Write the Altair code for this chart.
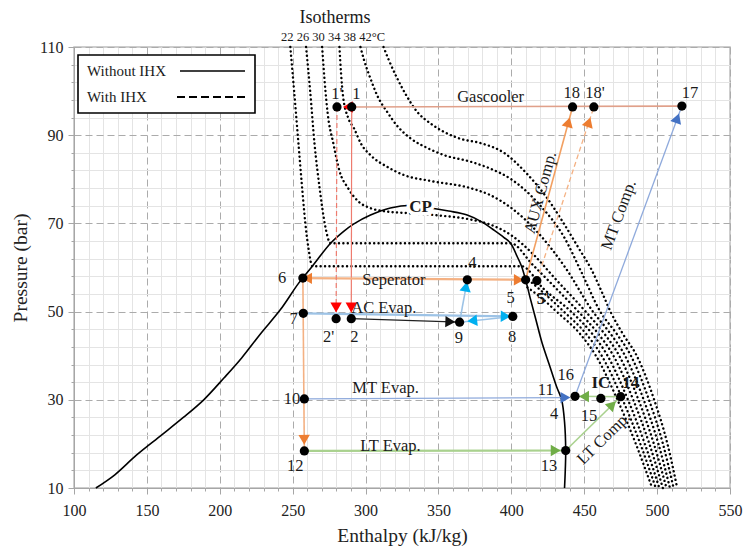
import math
import altair as alt
import pandas as pd

W, H = 656, 441
H_RANGE = [100, 550]
P_RANGE = [10, 110]
FONT = "Liberation Serif"

# ---------------- ticks ----------------
x_tick_values = list(range(100, 551, 10))
y_tick_values = list(range(10, 111, 4))

# ---------------- saturation dome ----------------
dome_h = [115.0, 128.0, 143.0, 160.0, 175.0, 189.0, 203.0, 215.0, 228.0, 241.5, 254.0, 263.5, 276.0,
          285.0, 292.0, 303.4, 317.0, 331.0, 344.6, 357.0, 369.7, 380.0, 388.0, 395.0, 399.5, 404.0,
          407.0, 409.8, 413.0, 417.0, 421.0, 426.0, 431.0, 434.5, 436.5, 437.3, 437.0, 436.5]
dome_P = [10.0, 13.0, 17.5, 22.0, 26.0, 30.0, 35.0, 39.5, 45.0, 50.4, 56.4, 60.3, 65.5,
          68.2, 69.9, 71.9, 73.5, 74.1, 73.5, 72.8, 71.9, 70.3, 68.5, 66.8, 65.5, 62.5,
          60.3, 57.2, 53.0, 48.0, 43.0, 38.0, 33.0, 30.0, 25.0, 18.5, 14.0, 10.0]

# ---------------- isotherms ----------------
iso22_h = [248.4, 251.0, 254.0, 256.5, 258.7, 261.0, 263.5, 407.0, 422.0, 441.0, 455.4, 466.0, 480.0, 491.6, 501.5]
iso22_P = [110, 100, 88, 78, 70, 64, 60.3, 60.3, 55.2, 50, 45, 40, 30, 20, 10]
iso26_h = [259.2, 262.0, 265.0, 268.5, 272.0, 276.0, 399.5, 415.0, 430.0, 446.0, 459.6, 470.0, 483.6, 494.7, 503.9]
iso26_P = [110, 100, 88, 78, 70, 65.5, 65.5, 60.5, 55.5, 50, 45, 40, 30, 20, 10]
iso30_h = [270.2, 272.5, 274.0, 278.0, 282.0, 288.0, 295.0, 303.0, 312.0, 330.0, 350.0, 370.0, 385.0,
           400.0, 415.0, 430.0, 451.0, 463.8, 474.0, 487.2, 497.8, 506.4]
iso30_P = [110, 100, 95, 88, 82, 78, 75, 73.5, 72.8, 72.3, 71.8, 71.0, 69.8,
           67.3, 63.0, 57.5, 50, 45, 40, 30, 20, 10]
iso34_h = [282.1, 283.2, 284.5, 288.0, 292.0, 297.0, 303.3, 315.0, 326.0, 345.0, 372.0, 385.0, 400.0,
           418.0, 437.0, 456.0, 468.0, 478.0, 490.8, 500.9, 508.8]
iso34_P = [110, 104, 99, 94, 91.6, 88, 85.5, 82.8, 81.0, 79.6, 78.0, 76.5, 73.5,
           68.0, 60.0, 50, 45, 40, 30, 20, 10]
iso38_h = [296.5, 299.0, 303.3, 308.0, 314.8, 322.0, 330.8, 343.0, 353.7, 372.0, 385.0, 400.0, 420.0,
           436.0, 448.0, 461.0, 472.2, 482.0, 494.4, 504.0, 511.3]
iso38_P = [110, 107, 102.9, 99, 95.3, 92, 89.3, 87, 85.5, 84, 82.5, 80, 74,
           67, 59, 50, 45, 40, 30, 20, 10]
iso42_h = [312.3, 316.0, 321.7, 328.0, 335.4, 344.0, 353.5, 365.0, 379.0, 395.0, 410.0, 424.0, 435.0,
           446.0, 455.0, 462.0, 468.0, 476.4, 486.0, 498.0, 507.1, 513.8]
iso42_P = [110, 107, 102.9, 99, 95.3, 92.8, 90.8, 89.2, 88.2, 86.0, 81.5, 76.0, 70.5,
           64.5, 59.5, 54.5, 50, 45, 40, 30, 20, 10]
isoA_h = [411.0, 421.0, 431.0, 447.0, 458.0, 472.8, 485.4, 496.6]
isoA_P = [55.5, 53.0, 50, 45, 40, 30, 20, 10]
isoB_h = [409.5, 423.0, 436.0, 451.2, 462.0, 476.4, 488.5, 499.1]
isoB_P = [57.8, 54.0, 50, 45, 40, 30, 20, 10]

isotherms = {"22": (iso22_h, iso22_P), "26": (iso26_h, iso26_P), "30": (iso30_h, iso30_P),
             "34": (iso34_h, iso34_P), "38": (iso38_h, iso38_P), "42": (iso42_h, iso42_P),
             "A": (isoA_h, isoA_P), "B": (isoB_h, isoB_P)}

# ---------------- cycle state points ----------------
state_names = ["1'", "1", "2'", "2", "4", "5", "5'", "6", "7", "8", "9", "10", "11",
               "12", "13", "14", "16", "IC", "17", "18", "18'"]
state_h = [280.4, 290.5, 279.8, 290.2, 369.8, 409.8, 417.5, 257.0, 257.3, 401.0, 364.5, 258.0, 437.0,
           258.0, 437.3, 475.0, 443.7, 461.4, 517.0, 442.0, 456.6]
state_P = [96.4, 96.4, 48.4, 48.4, 57.2, 57.2, 57.0, 57.6, 49.6, 48.9, 47.6, 30.2, 30.5,
           18.4, 18.5, 30.7, 30.8, 30.3, 96.6, 96.4, 96.4]
dot_names = ["1'", "1", "2'", "2", "4", "5", "5'", "6", "7", "8", "9", "10",
             "12", "13", "14", "16", "IC", "17", "18", "18'"]

# process lines (from, to, group)
seg_from = ["17", "1", "1'", "2", "5", "6", "7", "8", "9", "5", "5'", "10", "16", "12", "13", "14"]
seg_to = ["1", "2", "2'", "9", "6", "12", "8", "9", "4", "18", "18'", "11", "17", "13", "14", "16"]
seg_group = ["gascooler", "valve", "valve_ihx", "black", "separator", "liquid", "ac", "ac2", "ac2",
             "aux", "aux_ihx", "mt", "mt", "lt", "lt2", "lt2"]

# arrow heads (position on line, direction from -> to, group)
arrow_h = [289.0, 279.8, 290.2, 357.0, 261.0, 404.0, 257.9, 438.9, 452.8, 395.0, 374.3, 368.7,
           436.0, 513.5, 429.3, 468.5, 451.0]
arrow_P = [96.4, 51.3, 51.3, 47.7, 57.55, 57.2, 21.3, 92.6, 92.6, 48.95, 47.95, 55.3,
           30.5, 93.5, 18.5, 28.6, 30.75]
arrow_from = ["17", "1", "1'", "2", "5", "6", "6", "5", "5'", "7", "8", "9", "10", "16", "12", "13", "14"]
arrow_to = ["1", "2", "2'", "9", "6", "5", "12", "18", "18'", "8", "9", "4", "11", "17", "13", "14", "16"]
arrow_group = ["red", "red", "red", "black", "orange", "orange", "orange", "orange", "orange",
               "cyan", "cyan", "cyan", "blue", "blue", "green", "green", "green"]

# labels
label_text = ["1'", "1", "Gascooler", "18", "18'", "17", "6", "Seperator", "4", "5",
              "AC Evap.", "7", "2'", "2", "9", "8", "MT Evap.", "10", "11", "16", "4", "15",
              "LT Evap.", "12", "13"]
label_h = [280.4, 293.7, 385.8, 441.5, 457.4, 522.6, 242.7, 319.4, 373.2, 399.5,
           312.5, 250.7, 274.7, 292.3, 364.0, 400.5, 313.7, 249.5, 423.6, 437.3, 429.4, 453.3,
           317.1, 251.8, 425.8]
label_P = [99.4, 99.4, 98.7, 99.5, 99.5, 99.5, 57.6, 57.2, 61.0, 53.0,
           50.8, 48.3, 44.3, 44.3, 44.0, 44.3, 32.6, 30.1, 32.2, 35.6, 26.8, 26.3,
           19.5, 15.0, 15.0]
bold_text = ["CP", "5'", "IC", "14"]
bold_h = [337.7, 422.0, 461.4, 482.0]
bold_P = [73.7, 52.8, 33.7, 33.7]
rot_text = ["AUX Comp.", "MT Comp.", "LT Comp."]
rot_h = [420.0, 473.7, 463.4]
rot_P = [77.0, 71.9, 21.3]
rot_from = ["5", "16", "13"]
rot_to = ["18", "17", "14"]

iso_title = "Isotherms"
iso_scale_text = "22 26 30 34 38 42°C"
legend_labels = ["Without IHX", "With IHX"]

# ---------------- styles ----------------
seg_style = {
    "gascooler": ("#E0A08A", 1.6, None), "valve": ("#EE7B6E", 1.2, None),
    "valve_ihx": ("#EE7B6E", 1.2, [5, 3]), "black": ("#222222", 1.2, None),
    "separator": ("#F4B183", 2.2, None), "liquid": ("#F4B183", 1.6, None),
    "ac": ("#9DC3E6", 2.2, None), "ac2": ("#9DC3E6", 1.6, None),
    "aux": ("#F2A062", 1.6, None), "aux_ihx": ("#F4B183", 1.3, [5, 3]),
    "mt": ("#8FAADC", 1.3, None), "lt": ("#A9D18E", 2.2, None), "lt2": ("#A9D18E", 1.6, None),
}
arrow_color = {"red": "#FF0000", "black": "#111111", "orange": "#ED7D31",
               "cyan": "#00B0F0", "blue": "#4472C4", "green": "#70AD47"}

KX = W / (H_RANGE[1] - H_RANGE[0])
KY = H / (P_RANGE[1] - P_RANGE[0])
st = {n: (h, p) for n, h, p in zip(state_names, state_h, state_P)}


def screen_vec(a, b):
    return (st[b][0] - st[a][0]) * KX, -(st[b][1] - st[a][1]) * KY


# ---------------- tables ----------------
dome_df = pd.DataFrame({"h": dome_h, "P": dome_P, "i": range(len(dome_h))})
iso_rows = []
for name, (hs, ps) in isotherms.items():
    for i, (h, p) in enumerate(zip(hs, ps)):
        iso_rows.append({"iso": name, "h": h, "P": p, "i": i})
iso_df = pd.DataFrame(iso_rows)

seg_rows = []
for k, (a, b, g) in enumerate(zip(seg_from, seg_to, seg_group)):
    color, width, dash = seg_style[g]
    for j, n in enumerate([a, b]):
        seg_rows.append({"seg": k, "h": st[n][0], "P": st[n][1], "j": j, "color": color,
                         "w": width, "dashed": dash is not None})
seg_df = pd.DataFrame(seg_rows)

arr_rows = []
for h, p, a, b, g in zip(arrow_h, arrow_P, arrow_from, arrow_to, arrow_group):
    dx, dy = screen_vec(a, b)
    ang = math.degrees(math.atan2(dx, -dy)) % 360
    arr_rows.append({"h": h, "P": p, "angle": ang, "color": arrow_color[g]})
arr_df = pd.DataFrame(arr_rows)

dot_df = pd.DataFrame({"h": [st[n][0] for n in dot_names], "P": [st[n][1] for n in dot_names]})
lab_df = pd.DataFrame({"text": label_text, "h": label_h, "P": label_P})
bold_df = pd.DataFrame({"text": bold_text, "h": bold_h, "P": bold_P})
rot_rows = []
for t, h, p, a, b in zip(rot_text, rot_h, rot_P, rot_from, rot_to):
    dx, dy = screen_vec(a, b)
    rot_rows.append({"text": t, "h": h, "P": p, "angle": math.degrees(math.atan2(dy, dx)) % 360})
rot_df = pd.DataFrame(rot_rows)

# ---------------- axes ----------------
x_axis = alt.Axis(
    title="Enthalpy (kJ/kg)", values=x_tick_values,
    labelExpr="datum.value % 50 === 0 ? datum.label : ''",
    labelOverlap=False, labelFlush=False,
    grid=True,
    gridColor={"condition": {"test": "datum.value % 50 === 0", "value": "#ABABAB"}, "value": "#E4E4E4"},
    gridDash={"condition": {"test": "datum.value % 50 === 0", "value": [7, 4]}, "value": []},
    tickSize={"condition": {"test": "datum.value % 50 === 0", "value": 6}, "value": 3},
    tickColor="#A6A6A6", domainColor="#A6A6A6",
    labelFont=FONT, labelFontSize=16, labelColor="#222222", labelPadding=8,
    titleFont=FONT, titleFontSize=19.5, titleFontWeight="normal", titleColor="#222222", titlePadding=8,
)
y_axis = alt.Axis(
    title="Pressure (bar)", values=y_tick_values,
    labelExpr="(datum.value - 10) % 20 === 0 ? datum.label : ''",
    labelOverlap=False, labelFlush=False,
    grid=True,
    gridColor={"condition": {"test": "(datum.value - 10) % 20 === 0", "value": "#ABABAB"}, "value": "#E4E4E4"},
    gridDash={"condition": {"test": "(datum.value - 10) % 20 === 0", "value": [7, 4]}, "value": []},
    tickSize={"condition": {"test": "(datum.value - 10) % 20 === 0", "value": 6}, "value": 3},
    tickColor="#A6A6A6", domainColor="#A6A6A6",
    labelFont=FONT, labelFontSize=16, labelColor="#222222", labelPadding=5,
    titleFont=FONT, titleFontSize=19.5, titleFontWeight="normal", titleColor="#222222", titlePadding=9,
)


def X():
    return alt.X("h:Q", scale=alt.Scale(domain=H_RANGE, nice=False, zero=False), axis=x_axis)


def Y():
    return alt.Y("P:Q", scale=alt.Scale(domain=P_RANGE, nice=False, zero=False), axis=y_axis)


# ---------------- layers ----------------
iso_layer = alt.Chart(iso_df).mark_line(
    color="black", strokeWidth=2.4, strokeDash=[0.1, 4.3], strokeCap="round", interpolate="monotone"
).encode(x=X(), y=Y(), detail="iso:N", order="i:Q")

dome_layer = alt.Chart(dome_df).mark_line(color="black", strokeWidth=1.6, interpolate="catmull-rom").encode(
    x=X(), y=Y(), order="i:Q")

seg_solid = alt.Chart(seg_df[~seg_df.dashed]).mark_line().encode(
    x=X(), y=Y(), detail="seg:N", order="j:Q",
    color=alt.Color("color:N", scale=None), strokeWidth=alt.StrokeWidth("w:Q", scale=None))
seg_dashed = alt.Chart(seg_df[seg_df.dashed]).mark_line(strokeDash=[5, 3]).encode(
    x=X(), y=Y(), detail="seg:N", order="j:Q",
    color=alt.Color("color:N", scale=None), strokeWidth=alt.StrokeWidth("w:Q", scale=None))

arrow_layer = alt.Chart(arr_df).mark_point(shape="triangle", filled=True, size=130, opacity=1).encode(
    x=X(), y=Y(), angle=alt.Angle("angle:Q", scale=None), color=alt.Color("color:N", scale=None))

dot_layer = alt.Chart(dot_df).mark_circle(size=85, color="black", opacity=1).encode(x=X(), y=Y())

label_layer = alt.Chart(lab_df).mark_text(font=FONT, fontSize=16.5, color="#1A1A1A").encode(
    x=X(), y=Y(), text="text:N")
bold_halo = alt.Chart(bold_df[bold_df.text == "CP"]).mark_text(
    font=FONT, fontSize=17, fontWeight="bold", color="white", stroke="white", strokeWidth=7).encode(
    x=X(), y=Y(), text="text:N")
bold_layer = alt.Chart(bold_df).mark_text(font=FONT, fontSize=17, fontWeight="bold", color="#1A1A1A").encode(
    x=X(), y=Y(), text="text:N")
rot_layer = alt.Chart(rot_df).mark_text(font=FONT, fontSize=16.5, color="#1A1A1A").encode(
    x=X(), y=Y(), text="text:N", angle=alt.Angle("angle:Q", scale=None))

one = pd.DataFrame({"k": [0]})
title_layer = alt.Chart(one).mark_text(font=FONT, fontSize=18, color="#1A1A1A").encode(
    x=alt.value(261), y=alt.value(-29), text=alt.value(iso_title))
scale_layer = alt.Chart(one).mark_text(font=FONT, fontSize=12.5, color="#1A1A1A").encode(
    x=alt.value(259), y=alt.value(-10), text=alt.value(iso_scale_text))

legend_box = alt.Chart(one).mark_rect(fill="white", stroke="black", strokeWidth=1.6).encode(
    x=alt.value(4), x2=alt.value(181), y=alt.value(8), y2=alt.value(66))
legend_t1 = alt.Chart(one).mark_text(font=FONT, fontSize=15, align="left", color="#1A1A1A").encode(
    x=alt.value(13), y=alt.value(24), text=alt.value(legend_labels[0]))
legend_t2 = alt.Chart(one).mark_text(font=FONT, fontSize=15, align="left", color="#1A1A1A").encode(
    x=alt.value(13), y=alt.value(50), text=alt.value(legend_labels[1]))
legend_l1 = alt.Chart(one).mark_rule(color="black", strokeWidth=1.3).encode(
    x=alt.value(106), x2=alt.value(171), y=alt.value(24))
legend_l2 = alt.Chart(one).mark_rule(color="black", strokeWidth=1.8, strokeDash=[8, 4]).encode(
    x=alt.value(103), x2=alt.value(171), y=alt.value(50))

chart = alt.layer(
    iso_layer, dome_layer, seg_solid, seg_dashed, arrow_layer, dot_layer,
    label_layer, bold_halo, bold_layer, rot_layer,
    title_layer, scale_layer, legend_box, legend_t1, legend_t2, legend_l1, legend_l2,
).properties(
    width=W, height=H,
    autosize=alt.AutoSizeParams(type="none"),
    padding={"left": 74, "top": 47, "right": 15, "bottom": 66},
).configure_view(stroke="#BDBDBD", strokeWidth=1.5)

chart.save("out.html", embed_options={"renderer": "svg", "actions": False})
